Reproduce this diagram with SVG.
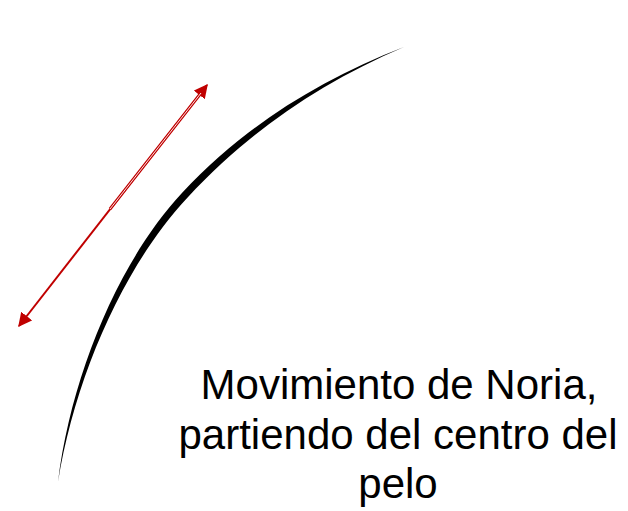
<svg xmlns="http://www.w3.org/2000/svg" width="628" height="511" viewBox="0 0 628 511">
<defs>
<style>
.lbl{font-family:"Liberation Sans",Arial,sans-serif;font-size:42px;fill:#000;text-anchor:middle}
.arr{stroke:#c00000;fill:none}
</style>
<marker id="ah" viewBox="0 0 10 10" refX="9" refY="5" markerWidth="7" markerHeight="7" orient="auto-start-reverse" markerUnits="strokeWidth">
<path d="M0,0 L10,5 L0,10 Z" fill="#c00000"/>
</marker>
<filter id="soft" x="-5%" y="-5%" width="110%" height="110%"><feGaussianBlur stdDeviation="0.6"/></filter>
</defs>
<rect width="628" height="511" fill="#fff"/>
<g id="hair">
<path filter="url(#soft)" fill="#000" d="M404,47 C318.0,80.4 243.8,126.8 182.4,192.6 C117.6,262.0 70.7,377.7 58,482 C74.7,378.3 122.8,266.8 187.6,197.4 C249.0,131.6 319.2,83.1 404,47 Z"/>
</g>
<g id="connectors">
<line class="arr" x1="19" y1="326" x2="207" y2="85" stroke-width="2" marker-start="url(#ah)" marker-end="url(#ah)"/>
<line class="arr" x1="110" y1="209" x2="201" y2="93" stroke-width="3"/>
<line x1="110" y1="209" x2="201" y2="93" stroke="#fff" stroke-width="0.9"/>
</g>
<g id="label">
<text class="lbl" x="399" y="399">Movimiento de Noria,</text>
<text class="lbl" x="398" y="449">partiendo del centro del</text>
<text class="lbl" x="398" y="498">pelo</text>
</g>
</svg>
